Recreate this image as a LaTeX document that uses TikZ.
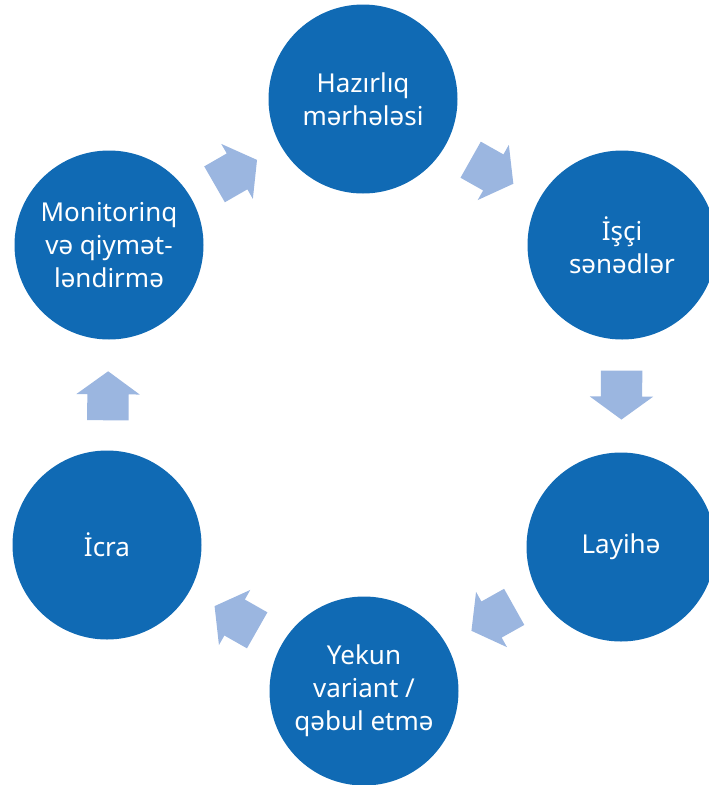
\documentclass[tikz,border=0pt]{standalone}
\usepackage{fontspec}
\setmainfont{Noto Sans}
\usetikzlibrary{shapes.arrows}

\begin{document}
\begin{tikzpicture}[x=1pt, y=-1pt, every node/.style={font=\fontsize{26}{33}\selectfont}]
	% Define colors
	\definecolor{stageblue}{RGB}{16, 106, 180}
	\definecolor{flowblue}{RGB}{155, 182, 224}

	% Styles
	\tikzstyle{stage} = [circle, fill=stageblue, text=white, minimum size=189pt, inner sep=0pt, align=center]
	\tikzstyle{flow_arrow} = [single arrow, fill=flowblue, minimum height=49pt, inner xsep=0pt, inner ysep=20.5pt, single arrow head extend=11pt, single arrow tip angle=108, sloped, allow upside down, pos=0.425]

	% Canvas
	\clip (0, 0) rectangle (709, 785);

	% Stages of the cycle
	\node[stage] (prep) at (363, 99) {Hazırlıq\\mərhələsi};
	\node[stage] (docs) at (622, 245) {İşçi\\sənədlər};
	\node[stage] (draft) at (621, 547) {Layihə};
	\node[stage] (final) at (364, 691) {Yekun\\variant /\\qəbul etmə};
	\node[stage] (exec) at (107, 545) {İcra};
	\node[stage] (monitor) at (109, 245) {Monitorinq\\və qiymət-\\ləndirmə};

	% Arrows between stages
	\path (prep) -- node[flow_arrow] (prep_docs) {} (docs);
	\path (docs) -- node[flow_arrow] (docs_draft) {} (draft);
	\path (draft) -- node[flow_arrow] (draft_final) {} (final);
	\path (final) -- node[flow_arrow] (final_exec) {} (exec);
	\path (exec) -- node[flow_arrow] (exec_monitor) {} (monitor);
	\path (monitor) -- node[flow_arrow] (monitor_prep) {} (prep);

\end{tikzpicture}
\end{document}
